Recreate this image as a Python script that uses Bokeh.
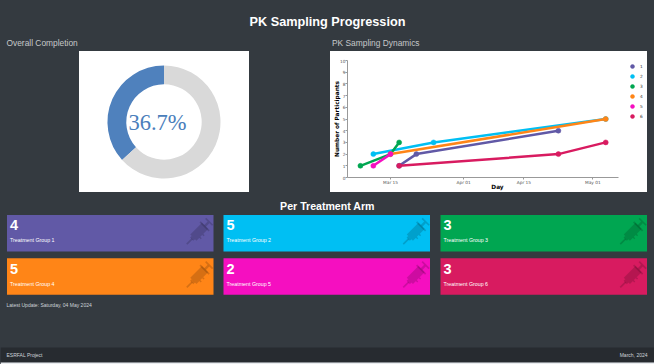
from datetime import datetime as D
import math
from bokeh.embed import file_html
from bokeh.resources import INLINE
from bokeh.plotting import figure
from bokeh.layouts import column, row
from bokeh.models import Range1d, FixedTicker, Legend, LegendItem, Spacer
from bokeh.core.properties import value

BG = "#343a40"
TEMPLATE = """<!DOCTYPE html><html lang="en"><head><meta charset="utf-8"><title>PK Sampling</title>
{{ bokeh_css }}{{ bokeh_js }}
<style>html,body{margin:0;padding:0;background:#343a40;overflow:hidden}</style></head>
<body>{{ plot_div | safe }}{{ plot_script | safe }}</body></html>"""

title = "PK Sampling Progression"
left_title = "Overall Completion"
right_title = "PK Sampling Dynamics"
section_title = "Per Treatment Arm"
update_text = "Latest Update: Saturday, 04 May 2024"
footer_left = "ESRFAL Project"
footer_right = "March, 2024"
x_axis_title = "Day"
y_axis_title = "Number of Participants"

completion = [36.7, 63.3]
completion_label = "36.7%"
donut_colors = ["#4f81bd", "#d9d9d9"]

groups = ["1", "2", "3", "4", "5", "6"]
group_colors = ["#6159a6", "#00bff3", "#00a651", "#ff8517", "#f50fc0", "#d81b60"]
group_counts = [4, 5, 3, 5, 2, 3]
group_names = ["Treatment Group 1", "Treatment Group 2", "Treatment Group 3",
               "Treatment Group 4", "Treatment Group 5", "Treatment Group 6"]

dates_1 = [D(2024, 3, 17), D(2024, 3, 21), D(2024, 4, 23)]
values_1 = [1, 2, 4]
dates_2 = [D(2024, 3, 11), D(2024, 3, 25), D(2024, 5, 4)]
values_2 = [2, 3, 5]
dates_3 = [D(2024, 3, 8), D(2024, 3, 15), D(2024, 3, 17)]
values_3 = [1, 2, 3]
dates_4 = [D(2024, 3, 15), D(2024, 5, 4)]
values_4 = [2, 5]
dates_5 = [D(2024, 3, 11), D(2024, 3, 15)]
values_5 = [1, 2]
dates_6 = [D(2024, 3, 17), D(2024, 4, 23), D(2024, 5, 4)]
values_6 = [1, 2, 3]
series = [(dates_1, values_1), (dates_2, values_2), (dates_3, values_3),
          (dates_4, values_4), (dates_5, values_5), (dates_6, values_6)]

x_ticks = [D(2024, 3, 15), D(2024, 4, 1), D(2024, 4, 15), D(2024, 5, 1)]
x_tick_labels = ["Mar 15", "Apr 01", "Apr 15", "May 01"]
y_ticks = [0, 1, 2, 3, 4, 5, 6, 7, 8, 9, 10]


def canvas(w, h, x0, x1, y0, y1, fill=BG):
    f = figure(width=w, height=h, x_range=Range1d(x0, x1), y_range=Range1d(y0, y1),
               output_backend="svg", toolbar_location=None, min_border=0,
               x_axis_location=None, y_axis_location=None, frame_align=False,
               background_fill_color=fill, border_fill_color=fill, tools="",
               styles={"background-color": fill})
    f.grid.visible = False
    f.outline_line_color = None
    return f


def label(f, x, y, s, size, color="#ffffff", style="normal", align="left", font="Liberation Sans"):
    f.text(x=[x], y=[y], text=[s], text_font=value(font), text_font_size=f"{size}px",
           text_color=color, text_font_style=style, text_align=align, text_baseline="middle")


def gap(w, h):
    return Spacer(width=w, height=h, styles={"background-color": BG})


# header -------------------------------------------------------------------
head = canvas(654, 51, 0, 654, 51, 0)
label(head, 327, 21, title, 12.7, style="bold", align="center")
label(head, 6, 42.5, left_title, 8.4, color="#c6c8ca")
label(head, 331.5, 42.5, right_title, 8.4, color="#c6c8ca")

# donut --------------------------------------------------------------------
donut = canvas(170, 141, 0, 170, 0, 141, fill="#ffffff")
start = math.pi / 2
for val, col in zip(completion, donut_colors):
    end = start + 2 * math.pi * val / sum(completion)
    donut.annular_wedge(x=[84.5], y=[70.5], inner_radius=37.7, outer_radius=56.5,
                        start_angle=start, end_angle=end, fill_color=col, line_color=None)
    start = end
label(donut, 78, 70.5, completion_label, 22.5, color="#4a7ebb", align="center", font="Liberation Serif")

# line chart ---------------------------------------------------------------
chart = figure(width=317, height=141, x_axis_type="datetime",
               x_range=Range1d(D(2024, 3, 5), D(2024, 5, 13, 17)), y_range=Range1d(0, 10),
               output_backend="svg", toolbar_location=None, tools="", frame_align=False,
               min_border_left=17, min_border_right=0, min_border_top=9, min_border_bottom=15,
               background_fill_color="#ffffff", border_fill_color="#ffffff")
chart.grid.visible = False
chart.outline_line_color = None
chart.xaxis.ticker = FixedTicker(ticks=[d.timestamp() * 1000 for d in x_ticks])
chart.xaxis.major_label_overrides = {d.timestamp() * 1000: s for d, s in zip(x_ticks, x_tick_labels)}
chart.xaxis.bounds = (D(2024, 3, 5).timestamp() * 1000, D(2024, 5, 7).timestamp() * 1000)
chart.yaxis.ticker = FixedTicker(ticks=y_ticks)
chart.xaxis.axis_label = x_axis_title
chart.yaxis.axis_label = y_axis_title
for ax in (chart.xaxis[0], chart.yaxis[0]):
    ax.axis_label_text_font = "DejaVu Sans"
    ax.axis_label_text_font_style = "bold"
    ax.axis_label_text_font_size = "5.8px"
    ax.axis_label_text_color = "#000000"
    ax.major_label_text_font = "DejaVu Sans"
    ax.major_label_text_font_size = "4.3px"
    ax.major_label_text_color = "#555555"
    ax.axis_line_color = "#999999"
    ax.major_tick_line_color = "#999999"
    ax.major_tick_out = 2
    ax.major_tick_in = 0
    ax.minor_tick_line_color = None
chart.xaxis[0].major_label_standoff = 0
chart.xaxis[0].axis_label_standoff = -4
chart.yaxis[0].major_label_standoff = 0
chart.yaxis[0].axis_label_standoff = -3
items = []
for name, col, (xs, ys) in zip(groups, group_colors, series):
    chart.line(xs, ys, line_color=col, line_width=2.5)
    dots = chart.scatter(xs, ys, size=5, fill_color=col, line_color=col, line_width=0.5)
    items.append(LegendItem(label=name, renderers=[dots]))
legend = Legend(items=items, border_line_color=None, background_fill_alpha=0,
                label_text_font="DejaVu Sans", label_text_font_size="4.3px", label_text_color="#333333",
                glyph_width=10, glyph_height=10, label_height=5, label_standoff=3,
                label_width=6, spacing=0, padding=0, margin=0, location=(280, 56))
chart.add_layout(legend, "center")

# cards --------------------------------------------------------------------
bot = canvas(654, 172, 0, 654, 364, 192)
label(bot, 327, 205, section_title, 10.6, style="bold", align="center")
card_w, card_h = 206.5, 36.6
card_x = [6.5, 223, 440]
card_y = [214.4, 257.7]

# icon outline, in units of one icon box, drawn along its diagonal
barrel = [(-0.30, -0.15), (0.27, -0.15), (0.27, 0.15), (-0.30, 0.15)]
tip = [(-0.30, -0.08), (-0.38, -0.08), (-0.38, 0.08), (-0.30, 0.08)]
needle = [(-0.62, -0.03), (-0.36, -0.03), (-0.36, 0.03), (-0.62, 0.03)]
rod = [(0.27, -0.04), (0.44, -0.04), (0.44, 0.04), (0.27, 0.04)]
thumb = [(0.44, -0.17), (0.50, -0.17), (0.50, 0.17), (0.44, 0.17)]
flange = [(0.22, -0.22), (0.28, -0.22), (0.28, 0.22), (0.22, 0.22)]
marks = [[(a, 0.15), (a + 0.05, 0.15), (a + 0.05, 0.22), (a, 0.22)] for a in (-0.16, -0.02)]
icon = [barrel, tip, needle, rod, thumb, flange] + marks


def place(shape, cx, cy, scale=29.0):
    c = math.cos(math.radians(-45)) * scale
    s = math.sin(math.radians(-45)) * scale
    return ([cx + x * c - y * s for x, y in shape], [cy + x * s + y * c for x, y in shape])


for i, name in enumerate(group_names):
    x0 = card_x[i % 3]
    y0 = card_y[i // 3]
    bot.quad(left=[x0], right=[x0 + card_w], top=[y0], bottom=[y0 + card_h],
             fill_color=group_colors[i], line_color=None)
    for shape in icon:
        xs, ys = place(shape, x0 + 192.5, y0 + 16.5)
        bot.patch(xs, ys, fill_color="#000000", fill_alpha=0.16, line_color=None)
    label(bot, x0 + 3, y0 + 10.5, str(group_counts[i]), 14.5, style="bold")
    label(bot, x0 + 3, y0 + 25.5, name, 5.3)

label(bot, 6, 304.5, update_text, 5, color="#ced4da")
bot.quad(left=[0], right=[654], top=[347], bottom=[362], fill_color="#272b30", line_color=None)
bot.quad(left=[0], right=[654], top=[362], bottom=[364], fill_color="#e9ecef", line_color=None)
label(bot, 6, 354, footer_left, 5, color="#ced4da")
label(bot, 647, 354, footer_right, 5, color="#ced4da", align="right")

mid = row(gap(79, 141), donut, gap(81, 141), chart, gap(7, 141), spacing=0)
page = column(head, mid, bot, spacing=0)
open("out.html", "w").write(file_html(page, INLINE, template=TEMPLATE))
